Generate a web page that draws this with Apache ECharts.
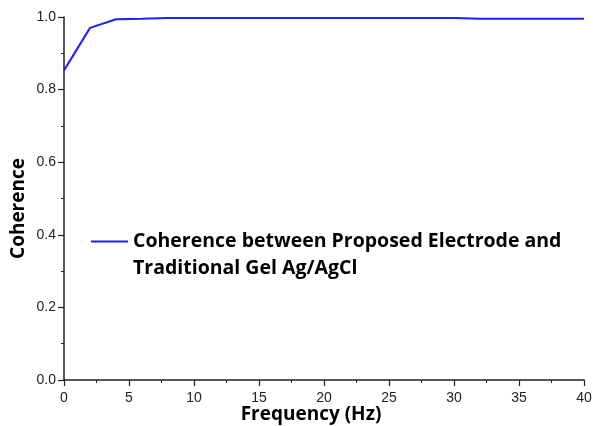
<!DOCTYPE html>
<html><head><meta charset="utf-8">
<script src="https://cdn.jsdelivr.net/npm/echarts@6/dist/echarts.min.js"></script>
<style>html,body{margin:0;padding:0;background:#fff}#c{width:593px;height:426px}</style>
</head><body><div id="c"></div>
<script>
const freqs = [0, 2, 4, 6, 8, 10, 12, 14, 16, 18, 20, 22, 24, 26, 28, 30, 32, 34, 36, 38, 40];
const coherence = [0.853, 0.970, 0.994, 0.995, 0.997, 0.997, 0.997, 0.997, 0.997, 0.997, 0.997, 0.997, 0.997, 0.997, 0.997, 0.997, 0.995, 0.995, 0.995, 0.995, 0.995];
const seriesName = 'Coherence between Proposed Electrode and\nTraditional Gel Ag/AgCl';
const xTitle = 'Frequency (Hz)';
const yTitle = 'Coherence';

const chart = echarts.init(document.getElementById('c'), null, {renderer: 'canvas'});
const axisCommon = {
  axisLine: {show: true, lineStyle: {color: '#222', width: 1.5}},
  axisTick: {show: true, inside: false, length: 6, lineStyle: {color: '#222', width: 1.2}},
  minorTick: {show: true, splitNumber: 2, length: 3, lineStyle: {color: '#222', width: 1}},
  splitLine: {show: false},
  axisLabel: {color: '#222', fontFamily: 'Liberation Sans, Arial', fontSize: 14},
  nameTextStyle: {color: '#000', fontFamily: 'Open Sans', fontWeight: 'bold', fontSize: 19},
  nameMoveOverlap: false
};
chart.setOption({
  animation: false,
  grid: {left: 64, right: 9, top: 17, bottom: 46, containLabel: false, outerBoundsMode: 'none'},
  xAxis: Object.assign({}, axisCommon, {
    type: 'value', min: 0, max: 40, interval: 5,
    name: xTitle, nameLocation: 'middle', nameGap: 25,
    nameTextStyle: Object.assign({}, axisCommon.nameTextStyle, {padding: [0, 26, 0, 0]}),
    axisLabel: Object.assign({}, axisCommon.axisLabel, {margin: 11})
  }),
  yAxis: Object.assign({}, axisCommon, {
    type: 'value', min: 0, max: 1, interval: 0.2,
    name: yTitle, nameLocation: 'middle', nameGap: 36,
    nameTextStyle: Object.assign({}, axisCommon.nameTextStyle, {padding: [0, 20, 0, 0]}),
    axisLabel: Object.assign({}, axisCommon.axisLabel, {margin: 8, formatter: v => v.toFixed(1)})
  }),
  legend: {
    show: true, left: 86, top: 196, orient: 'vertical',
    icon: 'rect', itemWidth: 37, itemHeight: 2, itemGap: 8,
    formatter: name => '\n' + name,
    textStyle: {fontFamily: 'Open Sans', fontWeight: 'bold', fontSize: 19.5, color: '#000', lineHeight: 27},
    data: [seriesName]
  },
  series: [{
    name: seriesName, type: 'line', data: freqs.map((f, i) => [f, coherence[i]]),
    symbol: 'none', lineStyle: {color: '#1f1fff', width: 2}, itemStyle: {color: '#1f1fff'}
  }]
});
</script></body></html>
